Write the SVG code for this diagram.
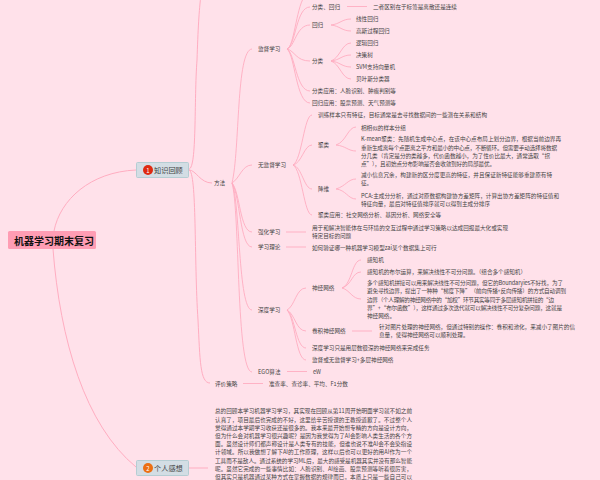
<svg xmlns="http://www.w3.org/2000/svg" width="600" height="480" viewBox="0 0 600 480">
<style>
text{font-family:"Noto Sans CJK SC","Noto Sans",sans-serif;font-size:5.6px;fill:#444;dominant-baseline:central}
.l{fill:none;stroke:#ffadc1;stroke-width:1}
.m{fill:none;stroke:#ffadc1;stroke-width:.9}
.b{fill:#d3dde4;stroke:#b5cdd3;stroke-width:1}
.t{font-size:7.2px;fill:#444}
.n{font-size:6px;fill:#fff;text-anchor:middle}
</style>
<rect width="600" height="480" fill="#ffe1ea"/>
<g id="connectors">
<path class="l" d="M54 231C60 200 90 172 136 170"/>
<path class="l" d="M53 249C60 340 85 425 136 467"/>
<path class="l" d="M189 169C197 168 194 100 197 60C198 30 199 10 201 -5"/>
<path class="l" d="M189 170C196 170 200 183 212 183"/>
<path class="l" d="M189 170C197 172 194 260 198 320C200 360 200 383 210 383"/>
<path class="l" d="M189 468H208"/>
<path class="m" d="M232 183C240 150 236 50 252 49"/>
<path class="m" d="M232 183C240 178 242 165 252 165"/>
<path class="m" d="M232 183C240 192 240 232 252 232"/>
<path class="m" d="M232 183C240 195 240 247 252 247"/>
<path class="m" d="M232 183C240 200 238 310 252 310"/>
<path class="m" d="M232 183C240 210 236 372 252 372"/>
<path class="m" d="M287 49C294 47 296 10 304 -3"/>
<path class="m" d="M287 49C296 45 296 7 310 7"/>
<path class="m" d="M287 49C295 47 296 25 310 25"/>
<path class="m" d="M287 49C295 51 296 61 310 61"/>
<path class="m" d="M287 49C295 53 296 91 310 91"/>
<path class="m" d="M287 49C295 55 296 103 310 103"/>
<path class="m" d="M331 25C340 24 342 19 351 19"/>
<path class="m" d="M331 25C340 26 342 31 351 31"/>
<path class="m" d="M331 61C340 58 342 43 351 43"/>
<path class="m" d="M331 61C340 60 342 55 351 55"/>
<path class="m" d="M331 61C340 62 342 67 351 67"/>
<path class="m" d="M331 61C340 64 342 79 351 79"/>
<path class="m" d="M347 6.500H367"/>
<path class="m" d="M293 165C302 160 304 115 312 115"/>
<path class="m" d="M293 165C302 163 304 145 312 145"/>
<path class="m" d="M293 165C302 167 304 189 312 189"/>
<path class="m" d="M293 165C302 170 304 215 312 215"/>
<path class="m" d="M336 145C346 142 348 127 356 127"/>
<path class="m" d="M336 145C346 146 348 151 356 151"/>
<path class="m" d="M336 189C346 186 348 179 356 179"/>
<path class="m" d="M336 189C346 190 348 199 356 199"/>
<path class="m" d="M286 232H306"/>
<path class="m" d="M286 247H306"/>
<path class="m" d="M287 310C295 306 296 288 306 288"/>
<path class="m" d="M287 310C295 314 296 331 306 331"/>
<path class="m" d="M287 310C295 316 296 348 306 348"/>
<path class="m" d="M287 310C295 318 296 360 306 360"/>
<path class="m" d="M342 288C352 284 352 260 361 260"/>
<path class="m" d="M342 288C352 285 352 272 361 272"/>
<path class="m" d="M342 288C350 290 352 299 361 299"/>
<path class="m" d="M352 331H372"/>
<path class="m" d="M287 371.500H307"/>
<path class="m" d="M243 383.500H263"/>
</g>
<g id="root"><rect x="8" y="231" width="88" height="18" rx="1.500" fill="#ff9db4"/><text x="14" y="240" style="font-size:10px;font-weight:700;fill:#111">机器学习期末复习</text></g>
<g id="review"><rect class="b" x="136.500" y="162.500" width="52" height="15" rx="1"/><circle cx="148" cy="170" r="5" fill="#de2a12"/><text class="n" x="148" y="170">1</text><text class="t" x="154" y="170">知识回顾</text></g>
<g id="feeling"><rect class="b" x="136.500" y="460.500" width="52" height="15" rx="1"/><circle cx="148" cy="468" r="5" fill="#ec6f13"/><text class="n" x="148" y="468">2</text><text class="t" x="154" y="468">个人感想</text></g>
<g id="method"><text x="214" y="183">方法</text></g>
<g id="supervised"><text x="258" y="49">监督学习</text><text x="312" y="7">分类、回归</text><text x="373" y="7">二者区别在于标签是离散还是连续</text><text x="312" y="25">回归</text><text x="356" y="19">线性回归</text><text x="356" y="31">高斯过程回归</text><text x="312" y="61">分类</text><text x="356" y="43">逻辑回归</text><text x="356" y="55">决策树</text><text x="356" y="67">SVM支持向量机</text><text x="356" y="79">贝叶斯分类器</text><text x="312" y="91">分类应用：人脸识别、肿瘤判别等</text><text x="312" y="103">回归应用：股票预测、天气预测等</text></g>
<g id="unsupervised"><text x="258" y="165">无监督学习</text><text x="318" y="115" textLength="169">训练样本只有特征，目标通常是去寻找数据间的一些潜在关系和结构</text><text x="318" y="145">聚类</text><text x="361" y="127.500">相相似的样本分组</text><text x="361" y="139.300" textLength="200">K-mean聚类：先随机生成中心点，在该中心点布局上划分边界，根据当前边界再</text><text x="361" y="147.500" textLength="196">重新生成离每个点距离之平方和最小的中心点，不断循环。但需要手动选择将数据</text><text x="361" y="155.700" textLength="189">分几类（肯定是分的类越多，代价函数越小，为了性价比最大，通常选取“拐</text><text x="361" y="163.800" textLength="134">点”），且初始点分布影响是否会收敛到好的局部最优。</text><text x="318" y="189">降维</text><text x="361" y="175" textLength="191">减小信息冗余，构建新的区分度更高的特征，并且保证新特征能够重建原有特</text><text x="361" y="183">征。</text><text x="361" y="195.500" textLength="198">PCA:主成分分析，通过对原数据构建协方差矩阵，计算出协方差矩阵的特征值和</text><text x="361" y="203.500" textLength="129">特征向量，最后对特征值排序就可以得到主成分排序</text><text x="318" y="215">聚类应用：社交网络分析、基因分析、网络安全等</text></g>
<g id="reinforcement"><text x="258" y="232">强化学习</text><text x="312" y="228" textLength="196">用于和解决智能体在与环境的交互过程中通过学习策略以达成回报最大化或实现</text><text x="312" y="236">特定目标的问题</text></g>
<g id="theory"><text x="258" y="247">学习理论</text><text x="312" y="247.500">如何验证哪一种机器学习模型zai某个数据集上可行</text></g>
<g id="deep"><text x="258" y="310">深度学习</text><text x="312" y="288">神经网络</text><text x="367" y="260">感知机</text><text x="367" y="272" textLength="159">感知机的布尔运算，来解决线性不可分问题。（组合多个感知机）</text><text x="367" y="283.300" textLength="196">多个感知机拼接可以用来解决线性不可分问题，但它的Boundaryies不好找，为了</text><text x="367" y="291.300" textLength="199">避免寻找边界，提出了一种种“梯度下降”（前向传播+反向传播）的方式自动调到</text><text x="367" y="299.500" textLength="187">边界（个人理解的神经网络中的“加权”环节其实等同于多层感知机拼接的“边</text><text x="367" y="307.700" textLength="195">界”+“布尔函数”），这样通过多次迭代就可以解决线性不可分复杂问题，这就是</text><text x="367" y="315.700">神经网络。</text><text x="312" y="331">卷积神经网络</text><text x="379" y="327" textLength="196">针对图片处理的神经网络，但通过特别的操作：卷积和池化，来减小了图片的信</text><text x="379" y="335">息量，使得神经网络可以顺利处理。</text><text x="312" y="348">深度学习只是用层数很深的神经网络来完成任务</text><text x="312" y="360">监督或无监督学习+多层神经网络</text></g>
<g id="ego"><text x="258" y="371.500">EGO算法</text><text x="313" y="372">eW</text></g>
<g id="evaluation"><text x="215" y="383.500">评价策略</text><text x="269" y="384">准查率、查诊率、平均、F1分数</text></g>
<g id="essay"><text x="215" y="411.300" textLength="197">总的回顾本学习机器学习学习，其实现在回顾从第11周开始明面学习就不如之前</text><text x="215" y="419.500" textLength="197">认真了，项目最后也完成的不好，这里给辛苦授课的王教授道歉了。不过整个人</text><text x="215" y="427.800" textLength="197">觉得通过本学期学习收获还是很多的。我本来最开始想专精的方向是设计方向，</text><text x="215" y="436" textLength="197">但为什么会对机器学习很兴趣呢？是因为我觉得为了AI会影响人类生活的各个方</text><text x="215" y="444.200" textLength="197">面。虽然设计师们都声称设计是人类专有的技能，但谁也说不准AI会不会染指设</text><text x="215" y="452.300" textLength="197">计领域。所以我做想了解下AI的工作原理，这样以后也可以更好的用AI作为一个</text><text x="215" y="460.500" textLength="197">工具而不是敌人。通过系统的学习ML后，最大的感受是机器其实并没有那么智能</text><text x="215" y="468.500" textLength="197">呢。虽然它完成的一些事情比如：人脸识别、AI绘画、股票预测等听着很厉害，</text><text x="215" y="476.500" textLength="197">但其实只是机器通过某种方式在掌握数据的规律而已，本质上只是一些自己可以</text></g>
</svg>
